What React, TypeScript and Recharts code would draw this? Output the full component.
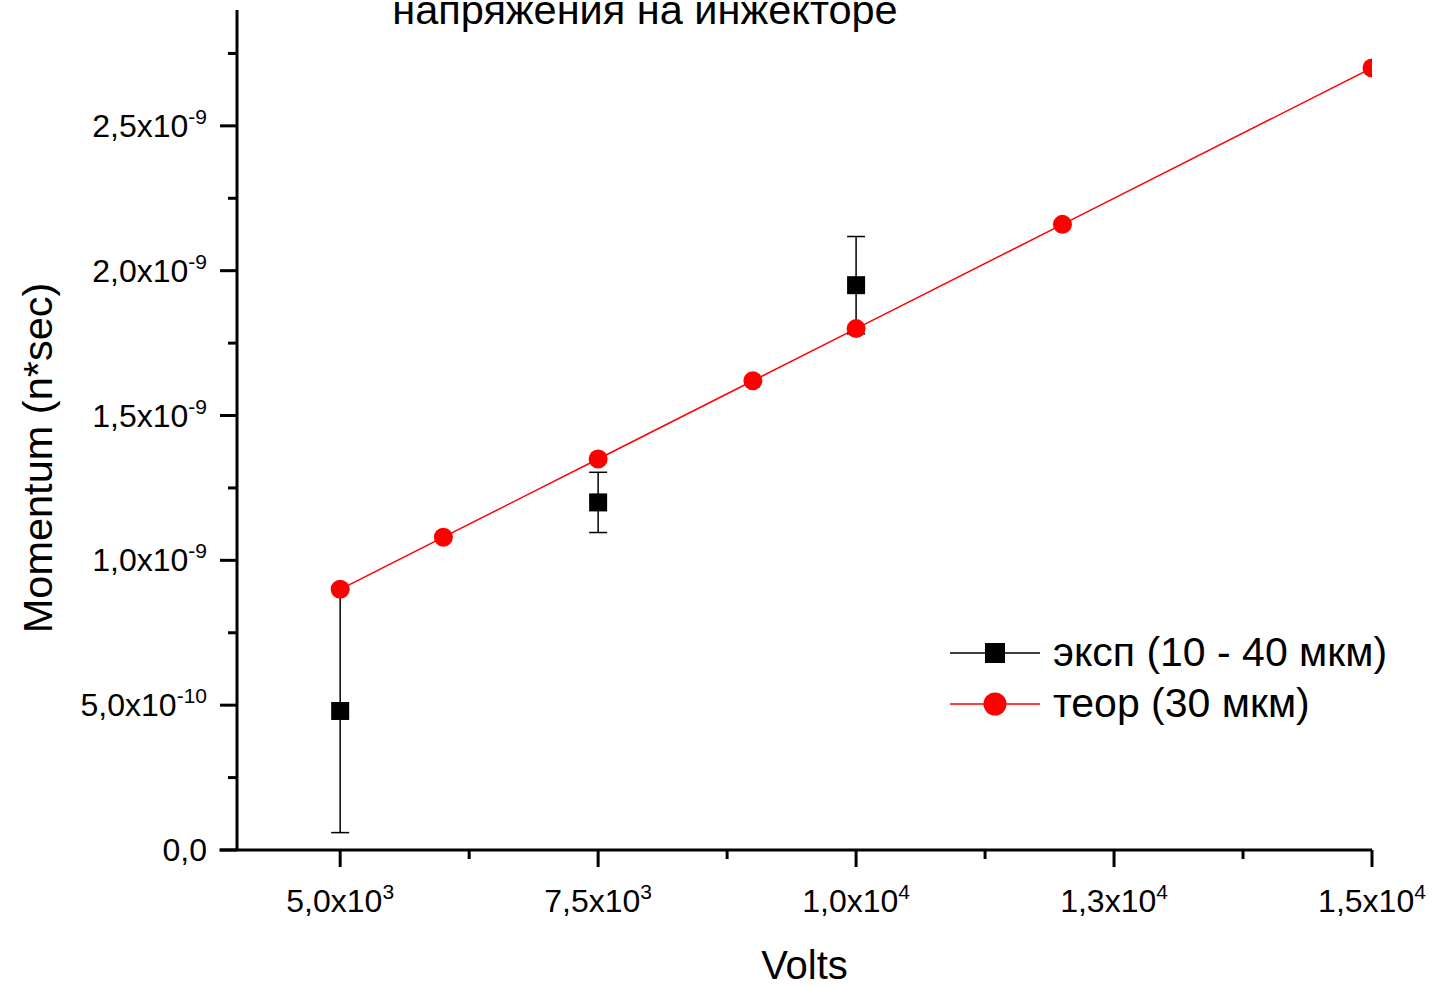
import React from 'react'
import {
    ComposedChart,
    Line,
    Scatter,
    ErrorBar,
    XAxis,
    YAxis,
    Legend,
    Label,
    ReferenceLine,
} from 'recharts'

const FONT = '"Liberation Sans", Arial, sans-serif'

// experiment (squares with error bars)
const expVolts = [5000, 7500, 10000]
const expMomentum = [0.48e-9, 1.2e-9, 1.95e-9]
const expError = [0.42e-9, 0.104e-9, 0.168e-9]

// theory (red line + circles)
const theorVolts = [5000, 6000, 7500, 9000, 10000, 12000, 15000]
const theorMomentum = [0.9e-9, 1.08e-9, 1.35e-9, 1.62e-9, 1.8e-9, 2.16e-9, 2.7e-9]

const xMajorTicks = [5000, 7500, 10000, 12500, 15000]
const xMinorTicks = [6250, 8750, 11250, 13750]
const xTickLabels = [
    ['5,0x10', '3'],
    ['7,5x10', '3'],
    ['1,0x10', '4'],
    ['1,3x10', '4'],
    ['1,5x10', '4'],
]

const yMajorTicks = [0, 0.5e-9, 1.0e-9, 1.5e-9, 2.0e-9, 2.5e-9]
const yMinorTicks = [0.25e-9, 0.75e-9, 1.25e-9, 1.75e-9, 2.25e-9, 2.75e-9]
const yTickLabels = [
    ['0,0', ''],
    ['5,0x10', '-10'],
    ['1,0x10', '-9'],
    ['1,5x10', '-9'],
    ['2,0x10', '-9'],
    ['2,5x10', '-9'],
]

const expName = 'эксп (10 - 40 мкм)'
const theorName = 'теор (30 мкм)'

const expData = expVolts.map((x, i) => ({ x, y: expMomentum[i], err: expError[i] }))
const theorData = theorVolts.map((x, i) => ({ x, y: theorMomentum[i] }))

// layout
const W = 1437
const H = 986
const MARGIN = { top: 10, right: 65, bottom: 0, left: 0 }
const Y_AXIS_W = 237
const X_AXIS_H = 136
const PLOT_RIGHT = W - MARGIN.right
const DOT_R = 9.5

function findMajor(list: number[], v: number, eps: number) {
    return list.findIndex(t => Math.abs(t - v) < eps)
}

function XTick(props: any) {
    const { x, y, payload } = props
    const idx = findMajor(xMajorTicks, payload.value, 1)
    if (idx < 0) {
        return <line x1={x} x2={x} y1={y} y2={y + 9} stroke="#000" strokeWidth={3} />
    }
    const [base, sup] = xTickLabels[idx]
    return (
        <g>
            <line x1={x} x2={x} y1={y} y2={y + 17} stroke="#000" strokeWidth={3} />
            <text x={x} y={y + 62} textAnchor="middle" fontSize={32} fontFamily={FONT} fill="#000">
                {base}
                <tspan dy={-13} fontSize={21}>{sup}</tspan>
            </text>
        </g>
    )
}

function YTick(props: any) {
    const { x, y, payload } = props
    const idx = findMajor(yMajorTicks, payload.value, 1e-13)
    if (idx < 0) {
        return <line x1={x} x2={x - 9} y1={y} y2={y} stroke="#000" strokeWidth={3} />
    }
    const [base, sup] = yTickLabels[idx]
    return (
        <g>
            <line x1={x} x2={x - 17} y1={y} y2={y} stroke="#000" strokeWidth={3} />
            <text x={x - 30} y={y + 11} textAnchor="end" fontSize={32} fontFamily={FONT} fill="#000">
                {base}
                {sup && <tspan dy={-13} fontSize={21}>{sup}</tspan>}
            </text>
        </g>
    )
}

function Square(props: any) {
    const { cx, cy } = props
    return <rect x={cx - 9} y={cy - 9} width={18} height={18} fill="#000" />
}

// red circle, cut at the right frame like the original
function RedDot(props: any) {
    const { cx, cy } = props
    if (cx + DOT_R <= PLOT_RIGHT) return <circle cx={cx} cy={cy} r={DOT_R} fill="#ff0000" />
    const d = Math.max(-DOT_R, PLOT_RIGHT - cx)
    const h = Math.sqrt(DOT_R * DOT_R - d * d)
    const large = d >= 0 ? 1 : 0
    const path = `M ${PLOT_RIGHT} ${cy - h} A ${DOT_R} ${DOT_R} 0 ${large} 0 ${PLOT_RIGHT} ${cy + h} Z`
    return <path d={path} fill="#ff0000" />
}

function LegendBox() {
    const rows = [
        { name: expName, color: '#000', square: true },
        { name: theorName, color: '#ff0000', square: false },
    ]
    return (
        <div style={{ fontFamily: FONT, fontSize: 41, color: '#000' }}>
            {rows.map(r => (
                <div key={r.name} style={{ display: 'flex', alignItems: 'center', height: 51, whiteSpace: 'nowrap' }}>
                    <svg width={94} height={40} style={{ marginRight: 11 }}>
                        <line x1={2} x2={92} y1={20} y2={20} stroke={r.color} strokeWidth={1.5} />
                        {r.square ? (
                            <rect x={37} y={10} width={20} height={20} fill={r.color} />
                        ) : (
                            <circle cx={47} cy={20} r={11.5} fill={r.color} />
                        )}
                    </svg>
                    <span style={{ lineHeight: '51px' }}>{r.name}</span>
                </div>
            ))}
        </div>
    )
}

export default function App() {
    return (
        <div style={{ position: 'absolute', top: 0, left: 0, width: W, height: H, background: '#fff' }}>
            <ComposedChart width={W} height={H} margin={MARGIN}>
                <XAxis
                    type="number"
                    dataKey="x"
                    domain={[4000, 15000]}
                    allowDataOverflow
                    ticks={[...xMajorTicks, ...xMinorTicks].sort((a, b) => a - b)}
                    interval={0}
                    tickSize={0}
                    tickMargin={0}
                    tickLine={false}
                    axisLine={false}
                    tick={(p: any) => <XTick {...p} />}
                    height={X_AXIS_H}
                >
                    <Label
                        content={(p: any) => {
                            const vb = p.viewBox
                            return (
                                <text x={vb.x + vb.width / 2} y={vb.y + 129} textAnchor="middle" fontSize={40} fontFamily={FONT} fill="#000">
                                    Volts
                                </text>
                            )
                        }}
                    />
                </XAxis>
                <YAxis
                    type="number"
                    dataKey="y"
                    domain={[0, 2.9e-9]}
                    allowDataOverflow
                    ticks={[...yMajorTicks, ...yMinorTicks].sort((a, b) => a - b)}
                    interval={0}
                    tickSize={0}
                    tickMargin={0}
                    tickLine={false}
                    axisLine={{ stroke: '#000', strokeWidth: 3 }}
                    tick={(p: any) => <YTick {...p} />}
                    width={Y_AXIS_W}
                >
                    <Label
                        content={(p: any) => {
                            const vb = p.viewBox
                            const cy = vb.y + vb.height / 2 + 28
                            return (
                                <text x={52} y={cy} transform={`rotate(-90 52 ${cy})`} textAnchor="middle" fontSize={41.5} fontFamily={FONT} fill="#000">
                                    Momentum (n*sec)
                                </text>
                            )
                        }}
                    />
                </YAxis>
                <ReferenceLine
                    segment={[{ x: 3830, y: 0 }, { x: 15000, y: 0 }]}
                    stroke="#000"
                    strokeWidth={3}
                    ifOverflow="visible"
                />
                <Line
                    data={theorData}
                    dataKey="y"
                    name={theorName}
                    type="linear"
                    stroke="#ff0000"
                    strokeWidth={1.5}
                    dot={(p: any) => <RedDot key={`rd-${p.index}`} {...p} />}
                    activeDot={false}
                    isAnimationActive={false}
                />
                <Scatter data={expData} dataKey="y" name={expName} fill="#000" shape={Square} isAnimationActive={false}>
                    <ErrorBar dataKey="err" direction="y" width={9} stroke="#000" strokeWidth={1.5} />
                </Scatter>
                <Legend
                    layout="vertical"
                    align="center"
                    verticalAlign="middle"
                    wrapperStyle={{ left: 948, top: 627, width: 480 }}
                    content={() => <LegendBox />}
                />
            </ComposedChart>
            <svg width={W} height={50} style={{ position: 'absolute', top: 0, left: 0 }}>
                <text x={645} y={24} textAnchor="middle" fontSize={41.5} fontFamily={FONT} fill="#000">
                    напряжения на инжекторе
                </text>
            </svg>
        </div>
    )
}
